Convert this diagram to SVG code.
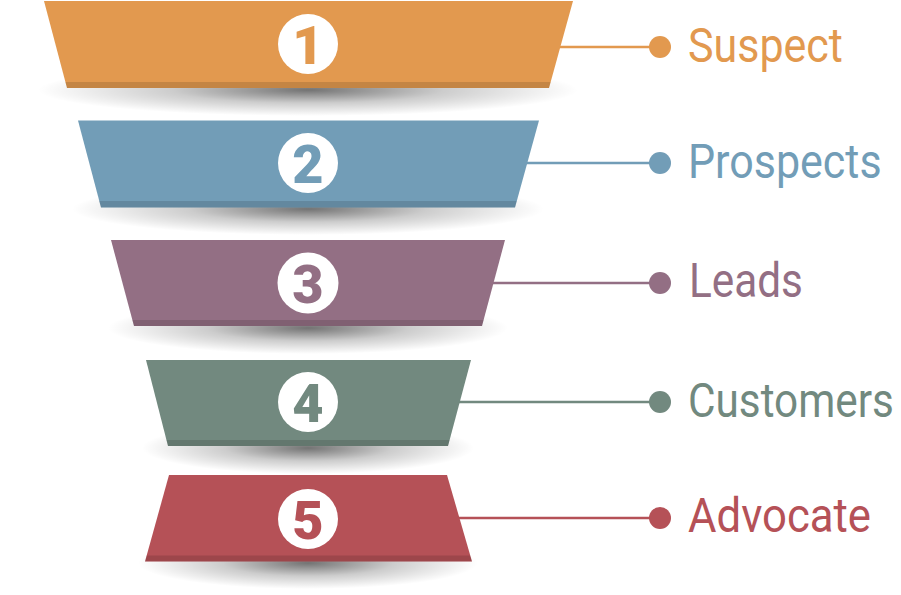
<svg xmlns="http://www.w3.org/2000/svg" width="901" height="595" viewBox="0 0 901 595">
<defs>
<radialGradient id="sh" cx="0.5" cy="0.5" r="0.5">
<stop offset="0" stop-color="#000" stop-opacity="0.55"/>
<stop offset="0.5" stop-color="#000" stop-opacity="0.2"/>
<stop offset="1" stop-color="#000" stop-opacity="0"/>
</radialGradient>
<style>
.num{font-family:Roboto,"Liberation Sans",sans-serif;font-weight:900;font-size:54px;text-anchor:middle}
.lbl{font-family:Roboto,"Liberation Sans",sans-serif;font-size:48px}
.circ{fill:#fff}
.strip{fill:#000;opacity:0.13}
</style>
</defs>
<rect width="901" height="595" fill="#fff"/>
<g id="shadows">
<ellipse cx="308" cy="90" rx="270" ry="26" fill="url(#sh)"/>
<ellipse cx="308" cy="209" rx="236" ry="26" fill="url(#sh)"/>
<ellipse cx="308" cy="328" rx="200" ry="26" fill="url(#sh)"/>
<ellipse cx="308" cy="448" rx="166" ry="26" fill="url(#sh)"/>
<ellipse cx="308" cy="563" rx="170" ry="26" fill="url(#sh)"/>
</g>
<g id="connectors" stroke-width="2.5">
<line x1="555" y1="47" x2="660" y2="47" stroke="#E2994F"/>
<circle cx="660" cy="47" r="11" fill="#E2994F"/>
<line x1="522" y1="163" x2="660" y2="163" stroke="#729DB7"/>
<circle cx="660" cy="163" r="11" fill="#729DB7"/>
<line x1="488" y1="283" x2="660" y2="283" stroke="#936F84"/>
<circle cx="660" cy="283" r="11" fill="#936F84"/>
<line x1="455" y1="402" x2="660" y2="402" stroke="#72897F"/>
<circle cx="660" cy="402" r="11" fill="#72897F"/>
<line x1="455" y1="518" x2="660" y2="518" stroke="#B55157"/>
<circle cx="660" cy="518" r="11" fill="#B55157"/>
</g>
<g id="node1">
<polygon points="44,1 573,1 549,88 67,88" fill="#E2994F"/>
<polygon points="65.4,82 550.6,82 549,88 67,88" class="strip"/>
<circle cx="308" cy="44" r="30" class="circ"/>
<text x="308" y="64" class="num" fill="#E2994F">1</text>
<text transform="translate(688,62) scale(0.88,1)" x="0" y="0" class="lbl" fill="#E2994F" textLength="176" lengthAdjust="spacingAndGlyphs">Suspect</text>
</g>
<g id="node2">
<polygon points="78,120.5 539,120.5 515,207.5 101,207.5" fill="#729DB7"/>
<polygon points="99.1,201 516.8,201 515,207.5 101,207.5" class="strip"/>
<circle cx="308" cy="163" r="30" class="circ"/>
<text x="308" y="183" class="num" fill="#729DB7">2</text>
<text transform="translate(688,178) scale(0.88,1)" x="0" y="0" class="lbl" fill="#729DB7" textLength="220" lengthAdjust="spacingAndGlyphs">Prospects</text>
</g>
<g id="node3">
<polygon points="111,240 505,240 482,326 134,326" fill="#936F84"/>
<polygon points="132.4,320 483.6,320 482,326 134,326" class="strip"/>
<circle cx="308" cy="283" r="30.5" class="circ"/>
<text x="308" y="303" class="num" fill="#936F84">3</text>
<text transform="translate(689,297) scale(0.88,1)" x="0" y="0" class="lbl" fill="#936F84" textLength="129.5" lengthAdjust="spacingAndGlyphs">Leads</text>
</g>
<g id="node4">
<polygon points="146,360 471,360 448,446 168,446" fill="#72897F"/>
<polygon points="166.4,440 449.6,440 448,446 168,446" class="strip"/>
<circle cx="308" cy="402" r="30" class="circ"/>
<text x="308" y="422" class="num" fill="#72897F">4</text>
<text transform="translate(688,417) scale(0.88,1)" x="0" y="0" class="lbl" fill="#72897F" textLength="234" lengthAdjust="spacingAndGlyphs">Customers</text>
</g>
<g id="node5">
<polygon points="169,475 447,475 472,561.5 145,561.5" fill="#B55157"/>
<polygon points="146.7,555.5 470.3,555.5 472,561.5 145,561.5" class="strip"/>
<circle cx="308" cy="519" r="30" class="circ"/>
<text x="308" y="539" class="num" fill="#B55157">5</text>
<text transform="translate(688,532) scale(0.88,1)" x="0" y="0" class="lbl" fill="#B55157" textLength="208" lengthAdjust="spacingAndGlyphs">Advocate</text>
</g>
</svg>
